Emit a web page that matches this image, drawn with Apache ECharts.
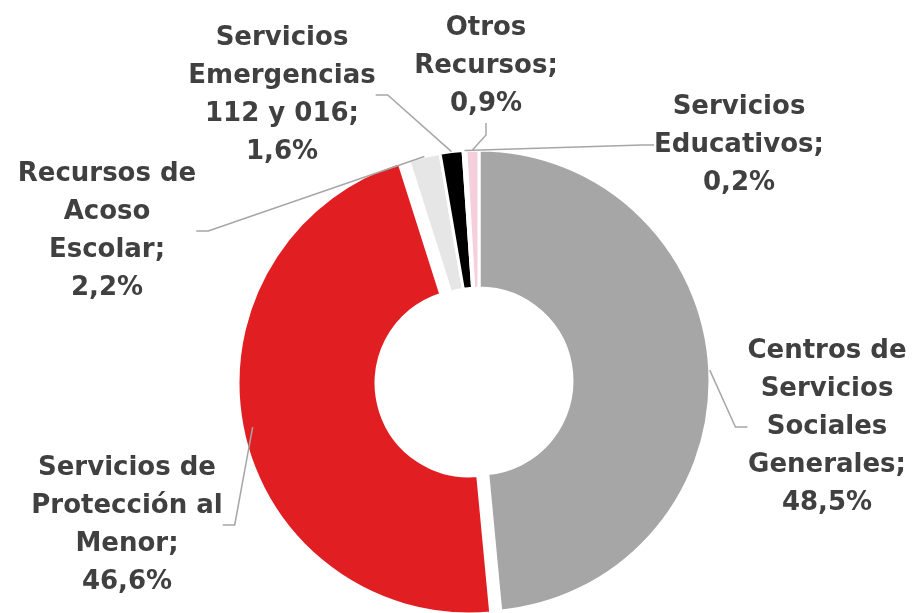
<!DOCTYPE html>
<html>
<head>
<meta charset="utf-8">
<script src="https://cdn.jsdelivr.net/npm/echarts@6/dist/echarts.min.js"></script>
<style>
html,body{margin:0;padding:0;background:#fff;}
#chart{width:920px;height:613px;}
</style>
</head>
<body>
<div id="chart"></div>
<script>
// ---- data ----
var categories = [
  'Centros de\nServicios\nSociales\nGenerales',
  'Servicios de\nProtección al\nMenor',
  'Recursos de\nAcoso\nEscolar',
  'Servicios\nEmergencias\n112 y 016',
  'Servicios\nEducativos',
  'Otros\nRecursos'
];
var values = [48.5, 46.6, 2.2, 1.6, 0.2, 0.9];
var colors = ['#A6A6A6', '#E11E22', '#E6E6E6', '#000000', '#FFFFFF', '#F5CFDC'];
var explodedIndex = 1;

// ---- layout (pixels) ----
var pieCenter = [479, 381];
var explodedCenter = [469, 383];
var labelPos = [
  [827, 427],
  [127, 525],
  [107, 231],
  [282, 95],
  [739, 145],
  [486, 66]
];

var chart = echarts.init(document.getElementById('chart'));

var transparent = 'rgba(0,0,0,0)';

var mainData = categories.map(function (c, i) {
  var exploded = i === explodedIndex;
  return {
    name: c,
    value: values[i],
    itemStyle: exploded
      ? { color: transparent, borderWidth: 0 }
      : { color: colors[i] }
  };
});

var explodedData = categories.map(function (c, i) {
  var exploded = i === explodedIndex;
  return {
    name: c,
    value: values[i],
    itemStyle: exploded
      ? { color: colors[i] }
      : { color: transparent, borderWidth: 0 }
  };
});

var labelStyle = {
  show: true,
  formatter: function (p) {
    return p.name + ';\n' + p.value.toFixed(1).replace('.', ',') + '%';
  },
  fontFamily: 'DejaVu Sans',
  fontWeight: 'bold',
  fontSize: 26,
  lineHeight: 38,
  color: '#404040',
  align: 'center'
};

chart.setOption({
  animation: false,
  backgroundColor: '#ffffff',
  series: [{
    type: 'pie',
    z: 2,
    center: pieCenter,
    radius: [93, 231],
    startAngle: 90,
    clockwise: true,
    avoidLabelOverlap: false,
    emphasis: { disabled: true },
    itemStyle: { borderColor: '#ffffff', borderWidth: 3 },
    label: labelStyle,
    labelLine: {
      show: true,
      length: 20,
      length2: 12,
      showAbove: true,
      lineStyle: { color: '#A6A6A6', width: 1.5 }
    },
    labelLayout: function (params) {
      var pos = labelPos[params.dataIndex];
      return {
        x: pos[0],
        y: pos[1],
        align: 'center',
        verticalAlign: 'middle'
      };
    },
    data: mainData
  }, {
    type: 'pie',
    z: 1,
    center: explodedCenter,
    radius: [93, 231],
    startAngle: 90,
    clockwise: true,
    silent: true,
    emphasis: { disabled: true },
    itemStyle: { borderColor: '#ffffff', borderWidth: 3 },
    label: { show: false },
    labelLine: { show: false },
    data: explodedData
  }]
});
</script>
</body>
</html>
